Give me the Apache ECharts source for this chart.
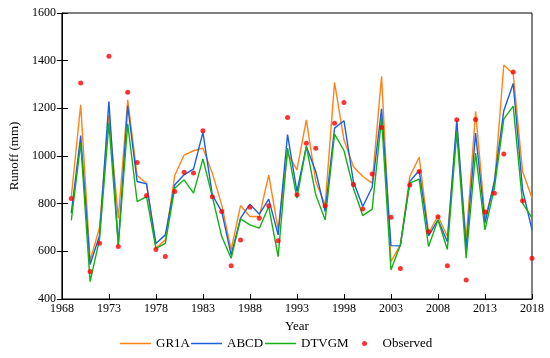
<!DOCTYPE html>
<html>
<head>
<meta charset="utf-8">
<script src="https://cdn.jsdelivr.net/npm/echarts@6/dist/echarts.min.js"></script>
<style>html,body{margin:0;padding:0;background:#fff}#c{width:550px;height:358px}</style>
</head>
<body>
<div id="c"></div>
<script>
const years = [1969,1970,1971,1972,1973,1974,1975,1976,1977,1978,1979,1980,1981,1982,1983,1984,1985,1986,1987,1988,1989,1990,1991,1992,1993,1994,1995,1996,1997,1998,1999,2000,2001,2002,2003,2004,2005,2006,2007,2008,2009,2010,2011,2012,2013,2014,2015,2016,2017,2018];
const gr1a = [830,1215,560,700,1173,739,1236,918,886,613,648,918,1004,1022,1033,928,795,606,792,746,746,921,690,1012,942,1152,893,795,1309,1068,956,914,886,1334,557,627,914,995,677,748,662,1117,648,1187,740,880,1382,1345,935,824];
const abcd = [760,1086,545,665,1229,627,1211,893,883,633,669,879,921,946,1099,837,767,585,739,798,756,819,669,1090,851,1040,935,767,1117,1148,893,788,869,1198,624,623,893,939,665,732,640,1152,610,1096,718,895,1190,1304,858,690];
const dtvgm = [730,1054,473,650,1138,627,1135,809,830,612,633,865,900,844,988,830,662,571,736,711,697,788,578,1033,823,1040,837,732,1092,1023,865,750,777,1159,522,627,886,903,620,732,608,1100,571,1012,690,865,1155,1209,802,740];
const observed = [822,1306,515,634,1419,620,1268,973,834,608,578,851,932,929,1106,829,767,540,648,785,739,791,644,1162,837,1054,1032,791,1137,1225,880,778,925,1120,743,528,878,935,682,745,540,1152,480,1153,765,844,1008,1352,812,571];
const yTicks = {min:400, max:1600, interval:200};
const xTicks = {min:1968, max:2018, interval:5};
const seriesNames = ['GR1A','ABCD','DTVGM','Observed'];
const colors = ['#FF8317','#1A5FDC','#14B014','#FF0000'];

const pair = arr => years.map((y,i)=>[y,arr[i]]);
const font = 'Liberation Serif';
const legendText = {fontFamily:font, fontSize:13, color:'#000'};
const lineLegend = (name, left) => ({data:[{name:name, icon:'rect'}], left:left, top:337, padding:0, itemWidth:31, itemHeight:1.5,
  textStyle:legendText, itemStyle:{borderWidth:0}, lineStyle:{width:0}});
const chart = echarts.init(document.getElementById('c'), null, {renderer:'canvas'});
chart.setOption({
  animation:false,
  backgroundColor:'#fff',
  textStyle:{fontFamily:font, color:'#000'},
  grid:{left:55, right:18, top:13, bottom:59, show:true, borderColor:'#000', borderWidth:1, backgroundColor:'transparent'},
  xAxis:{type:'value', min:xTicks.min, max:xTicks.max, interval:xTicks.interval,
    name:'Year', nameLocation:'middle', nameGap:20, nameTextStyle:{fontFamily:font, fontSize:13, color:'#000'},
    axisLine:{lineStyle:{color:'#000', width:1}},
    axisTick:{inside:true, length:5, lineStyle:{color:'#000'}},
    axisLabel:{fontFamily:font, fontSize:12, color:'#000', margin:4, formatter:v=>String(v)},
    splitLine:{show:false}},
  yAxis:[{type:'value', min:yTicks.min, max:yTicks.max, interval:yTicks.interval,
    name:'Runoff (mm)', nameLocation:'middle', nameGap:37, nameTextStyle:{fontFamily:font, fontSize:13, color:'#000'},
    axisLine:{show:true, lineStyle:{color:'#000', width:1}},
    axisTick:{show:true, inside:true, length:6, lineStyle:{color:'#000'}},
    axisLabel:{fontFamily:font, fontSize:12, color:'#000', margin:6, formatter:v=>String(v)},
    splitLine:{show:false}},
   {type:'value', min:yTicks.min, max:yTicks.max, interval:yTicks.interval, position:'left',
    axisLine:{show:false}, axisTick:{show:true, inside:false, length:5, lineStyle:{color:'#000'}},
    axisLabel:{show:false}, splitLine:{show:false}}],
  legend:[lineLegend(seriesNames[0],120), lineLegend(seriesNames[1],191), lineLegend(seriesNames[2],265),
   {data:[seriesNames[3]], left:362, top:337, padding:0, itemWidth:26, itemHeight:5,
    textStyle:legendText}],
  series:[
    {name:seriesNames[0], type:'line', data:pair(gr1a), symbol:'none', lineStyle:{color:colors[0], width:1.4}, itemStyle:{color:colors[0]}, z:2},
    {name:seriesNames[1], type:'line', data:pair(abcd), symbol:'none', lineStyle:{color:colors[1], width:1.4}, itemStyle:{color:colors[1]}, z:3},
    {name:seriesNames[2], type:'line', data:pair(dtvgm), symbol:'none', lineStyle:{color:colors[2], width:1.4}, itemStyle:{color:colors[2]}, z:4},
    {name:seriesNames[3], type:'scatter', data:pair(observed), symbol:'circle', symbolSize:5, itemStyle:{color:colors[3]}, z:5}
  ]
});
</script>
</body>
</html>
